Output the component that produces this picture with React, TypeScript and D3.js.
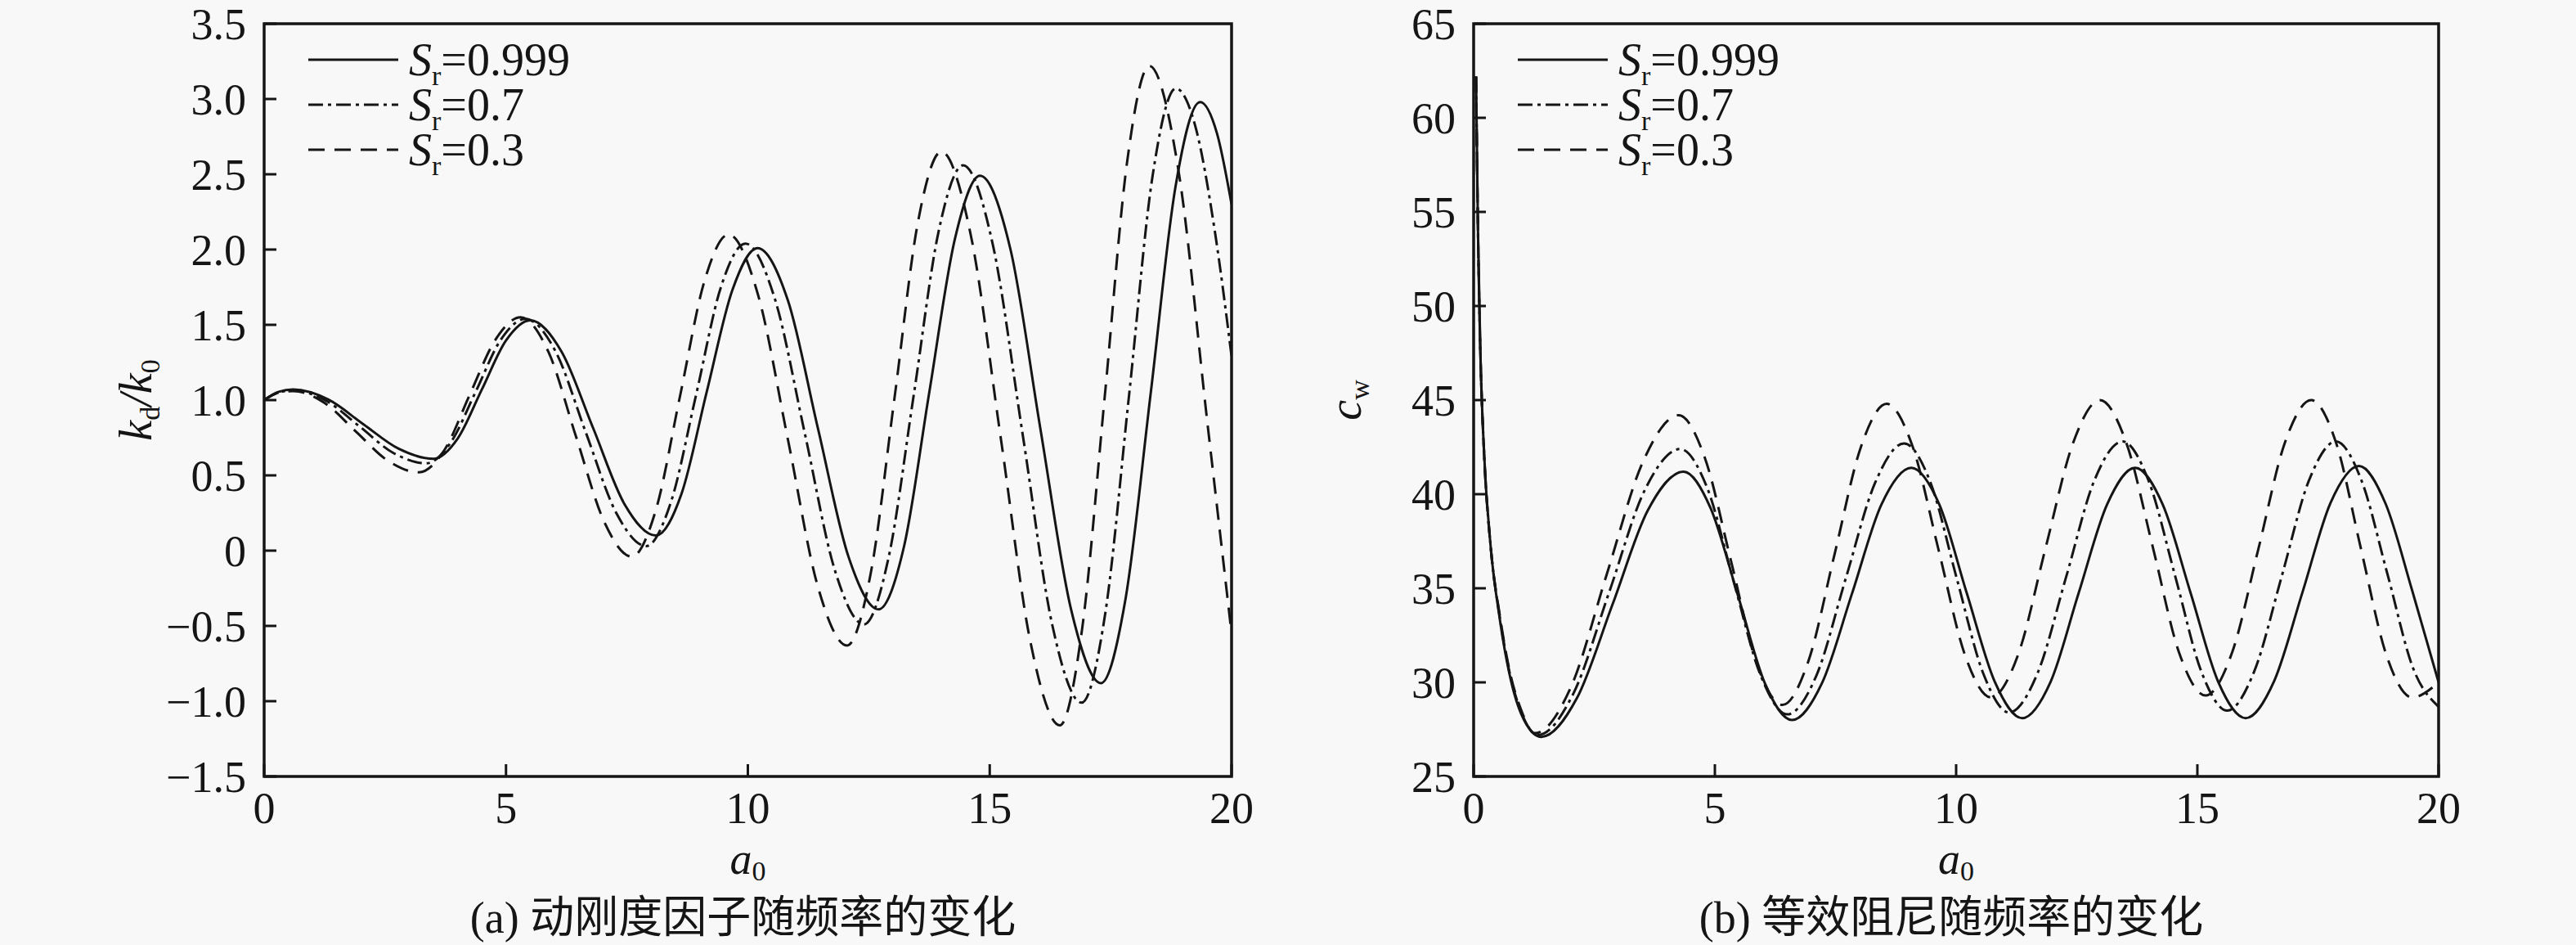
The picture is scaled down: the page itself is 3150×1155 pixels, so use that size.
import React, { useEffect } from 'react';
import * as d3 from 'd3';

// tick values
const a0Ticks = [0, 5, 10, 15, 20];
const kdTicks = [-1.5, -1.0, -0.5, 0, 0.5, 1.0, 1.5, 2.0, 2.5, 3.0, 3.5];
const cwTicks = [25, 30, 35, 40, 45, 50, 55, 60, 65];
const srLabels = ['0.999', '0.7', '0.3'];

// (a) k_d/k_0 vs a0
const kdSr999: [number, number][] = [
  [0, 1.0], [0.3, 1.055], [0.6, 1.07], [1.33, 1.003], [2.05, 0.84], [2.78, 0.677], [3.5, 0.61],
  [4.0, 0.744], [4.5, 1.07], [5.0, 1.396], [5.5, 1.53], [6.15, 1.321], [6.8, 0.815], [7.45, 0.309],
  [8.1, 0.1], [8.63, 0.379], [9.15, 1.055], [9.68, 1.731], [10.2, 2.01], [10.83, 1.66], [11.45, 0.81],
  [12.08, -0.04], [12.7, -0.39], [13.23, 0.03], [13.75, 1.05], [14.28, 2.07], [14.8, 2.49],
  [15.43, 2.0], [16.05, 0.805], [16.68, -0.388], [17.3, -0.88], [17.81, -0.316], [18.33, 1.05],
  [18.84, 2.416], [19.35, 2.98], [19.7, 2.77], [20, 2.3],
];
const kdSr07: [number, number][] = [
  [0, 1.0], [0.3, 1.05], [0.6, 1.065], [1.29, 0.994], [1.98, 0.823], [2.66, 0.651], [3.35, 0.58],
  [3.86, 0.72], [4.38, 1.06], [4.89, 1.4], [5.4, 1.54], [6.03, 1.32], [6.65, 0.785], [7.28, 0.25],
  [7.9, 0.03], [8.41, 0.323], [8.93, 1.035], [9.44, 1.747], [9.95, 2.04], [10.56, 1.671], [11.18, 0.775],
  [11.79, -0.121], [12.4, -0.49], [12.91, -0.045], [13.43, 1.035], [13.94, 2.115], [14.45, 2.56],
  [15.06, 2.039], [15.68, 0.775], [16.29, -0.489], [16.9, -1.01], [17.39, -0.414], [17.88, 1.03],
  [18.36, 2.474], [18.85, 3.07], [19.25, 2.82], [19.65, 2.13], [20, 1.29],
];
const kdSr03: [number, number][] = [
  [0, 1.0], [0.3, 1.05], [0.6, 1.06], [1.25, 0.981], [1.9, 0.79], [2.55, 0.599], [3.2, 0.52],
  [3.73, 0.67], [4.25, 1.035], [4.78, 1.4], [5.3, 1.55], [5.88, 1.318], [6.45, 0.755], [7.03, 0.192],
  [7.6, -0.04], [8.1, 0.272], [8.6, 1.03], [9.1, 1.788], [9.6, 2.1], [10.21, 1.7], [10.83, 0.735],
  [11.44, -0.231], [12.05, -0.63], [12.54, -0.151], [13.03, 1.01], [13.51, 2.171], [14.0, 2.65],
  [14.61, 2.094], [15.23, 0.745], [15.84, -0.604], [16.45, -1.16], [16.91, -0.521], [17.38, 1.03],
  [17.84, 2.581], [18.3, 3.22], [18.9, 2.53], [19.5, 0.85], [20, -0.55],
];

// (b) c_w vs a0
const cwSr999: [number, number][] = [
  [0.05, 62.2], [0.09, 54], [0.14, 47.5], [0.22, 42], [0.35, 37.3], [0.54, 33.4], [0.73, 30.6],
  [0.99, 28.3], [1.4, 27.1], [2.14, 29.16], [2.88, 34.15], [3.61, 39.14], [4.35, 41.2], [4.91, 39.27],
  [5.48, 34.6], [6.04, 29.93], [6.6, 28.0], [7.22, 29.96], [7.84, 34.7], [8.45, 39.44], [9.07, 41.4],
  [9.65, 39.46], [10.22, 34.75], [10.8, 30.04], [11.37, 28.1], [11.96, 30.04], [12.54, 34.75],
  [13.13, 39.46], [13.71, 41.4], [14.28, 39.46], [14.86, 34.75], [15.43, 30.04], [16.0, 28.1],
  [16.59, 30.06], [17.18, 34.8], [17.76, 39.54], [18.35, 41.5], [18.9, 39.5], [19.45, 34.9], [20, 30.0],
];
const cwSr07: [number, number][] = [
  [0.05, 62.2], [0.09, 54], [0.14, 47.5], [0.22, 42], [0.35, 37.3], [0.54, 33.5], [0.73, 30.7],
  [0.99, 28.4], [1.33, 27.2], [2.07, 29.42], [2.81, 34.8], [3.54, 40.18], [4.28, 42.4], [4.84, 40.34],
  [5.39, 35.35], [5.95, 30.36], [6.5, 28.3], [7.11, 30.4], [7.71, 35.5], [8.32, 40.6], [8.92, 42.7],
  [9.47, 40.61], [10.01, 35.55], [10.56, 30.49], [11.1, 28.4], [11.69, 30.5], [12.28, 35.6],
  [12.86, 40.7], [13.45, 42.8], [13.99, 40.71], [14.54, 35.65], [15.08, 30.59], [15.62, 28.5],
  [16.18, 30.59], [16.75, 35.65], [17.31, 40.71], [17.87, 42.8], [18.4, 40.74], [18.94, 35.75],
  [19.47, 30.76], [20, 28.7],
];
const cwSr03: [number, number][] = [
  [0.05, 62.2], [0.09, 54], [0.14, 47.5], [0.22, 42], [0.35, 37.3], [0.54, 33.6], [0.73, 30.8],
  [0.99, 28.5], [1.27, 27.3], [2.02, 29.77], [2.76, 35.75], [3.51, 41.73], [4.25, 44.2], [4.79, 41.95],
  [5.33, 36.5], [5.86, 31.05], [6.4, 28.8], [6.94, 31.14], [7.48, 36.8], [8.02, 42.46], [8.56, 44.8],
  [9.1, 42.52], [9.64, 37.0], [10.18, 31.48], [10.72, 29.2], [11.29, 31.51], [11.85, 37.1],
  [12.42, 42.69], [12.98, 45.0], [13.53, 42.71], [14.08, 37.15], [14.62, 31.59], [15.17, 29.3],
  [15.72, 31.59], [16.27, 37.15], [16.81, 42.71], [17.36, 45.0], [17.88, 42.69], [18.39, 37.1],
  [18.91, 31.51], [19.45, 29.2], [20, 30.0],
];

const W = 3150;
const H = 1155;
const TOP = 29;
const BOTTOM = 949;
const INK = '#151515';
const SERIF = '"Liberation Serif", "Times New Roman", serif';
const CJK = '"Noto Sans CJK SC", sans-serif';
const dashes = [undefined, '18,6,4,6', '20,12'];

const fmtKd = (v: number) => (v === 0 ? '0' : (v < 0 ? '\u2212' : '') + Math.abs(v).toFixed(1));
const fmtCw = (v: number) => String(v);

interface PanelProps {
  id: string;
  left: number;
  right: number;
  domain: [number, number];
  ticks: number[];
  format: (v: number) => string;
  series: [number, number][][];
  yLabel: React.ReactNode;
  tag: string;
  caption: string;
}

const Panel: React.FC<PanelProps> = ({ id, left, right, domain, ticks, format, series, yLabel, tag, caption }) => {
  const x = d3.scaleLinear().domain([0, 20]).range([left, right]);
  const y = d3.scaleLinear().domain(domain).range([BOTTOM, TOP]);
  const line = d3
    .line<[number, number]>()
    .x((d) => x(d[0]))
    .y((d) => y(d[1]))
    .curve(d3.curveMonotoneX);
  const cx = (left + right) / 2;

  return (
    <g fontFamily={SERIF} fill={INK}>
      <defs>
        <clipPath id={id}>
          <rect x={left} y={TOP} width={right - left} height={BOTTOM - TOP} />
        </clipPath>
      </defs>

      <g clipPath={`url(#${id})`}>
        {series.map((s, i) => (
          <path
            key={i}
            d={line(s) || ''}
            fill="none"
            stroke={INK}
            strokeWidth={3}
            strokeDasharray={dashes[i]}
            strokeLinejoin="round"
          />
        ))}
      </g>

      {/* y ticks */}
      {ticks.map((t) => (
        <g key={t}>
          <line x1={left} x2={left + 15} y1={y(t)} y2={y(t)} stroke={INK} strokeWidth={3} />
          <text x={left - 22} y={y(t)} dy="0.35em" textAnchor="end" fontSize={54}>
            {format(t)}
          </text>
        </g>
      ))}

      {/* x ticks */}
      {a0Ticks.map((t) => (
        <g key={t}>
          <line x1={x(t)} x2={x(t)} y1={BOTTOM} y2={BOTTOM - 15} stroke={INK} strokeWidth={3} />
          <text x={x(t)} y={1006} textAnchor="middle" fontSize={54}>
            {t}
          </text>
        </g>
      ))}

      <rect x={left} y={TOP} width={right - left} height={BOTTOM - TOP} fill="none" stroke={INK} strokeWidth={3.5} />

      {/* legend */}
      {srLabels.map((lab, i) => {
        const base = 92 + i * 55;
        return (
          <g key={lab}>
            <line
              x1={left + 54}
              x2={left + 164}
              y1={base - 19}
              y2={base - 19}
              stroke={INK}
              strokeWidth={3}
              strokeDasharray={dashes[i]}
            />
            <text x={left + 177} y={base} fontSize={56}>
              <tspan fontStyle="italic">S</tspan>
              <tspan fontSize={34} dy={12}>r</tspan>
              <tspan dy={-12}>={lab}</tspan>
            </text>
          </g>
        );
      })}

      {/* axis labels */}
      <text transform={`translate(${left - 138},${(TOP + BOTTOM) / 2}) rotate(-90)`} textAnchor="middle" fontSize={56}>
        {yLabel}
      </text>
      <text x={cx} y={1068} textAnchor="middle" fontSize={54}>
        <tspan fontStyle="italic">a</tspan>
        <tspan fontSize={34} dy={8}>0</tspan>
      </text>

      <text x={cx - 6} y={1140} textAnchor="middle" fontSize={54}>
        <tspan fontFamily={SERIF}>{tag} </tspan>
        <tspan fontFamily={CJK}>{caption}</tspan>
      </text>
    </g>
  );
};

export default function App() {
  useEffect(() => {
    document.body.style.margin = '0';
  }, []);

  return (
    <svg width={W} height={H} style={{ display: 'block', position: 'absolute', left: 0, top: 0 }}>
      <rect x={0} y={0} width={W} height={H} fill="#f8f8f8" />
      <Panel
        id="clipA"
        left={323}
        right={1506}
        domain={[-1.5, 3.5]}
        ticks={kdTicks}
        format={fmtKd}
        series={[kdSr999, kdSr07, kdSr03]}
        yLabel={
          <>
            <tspan fontStyle="italic">k</tspan>
            <tspan fontSize={34} dy={10}>d</tspan>
            <tspan dy={-10} fontStyle="italic">/k</tspan>
            <tspan fontSize={34} dy={10}>0</tspan>
          </>
        }
        tag="(a)"
        caption="动刚度因子随频率的变化"
      />
      <Panel
        id="clipB"
        left={1802}
        right={2982}
        domain={[25, 65]}
        ticks={cwTicks}
        format={fmtCw}
        series={[cwSr999, cwSr07, cwSr03]}
        yLabel={
          <>
            <tspan fontStyle="italic">c</tspan>
            <tspan fontSize={34} dy={10}>w</tspan>
          </>
        }
        tag="(b)"
        caption="等效阻尼随频率的变化"
      />
    </svg>
  );
}
